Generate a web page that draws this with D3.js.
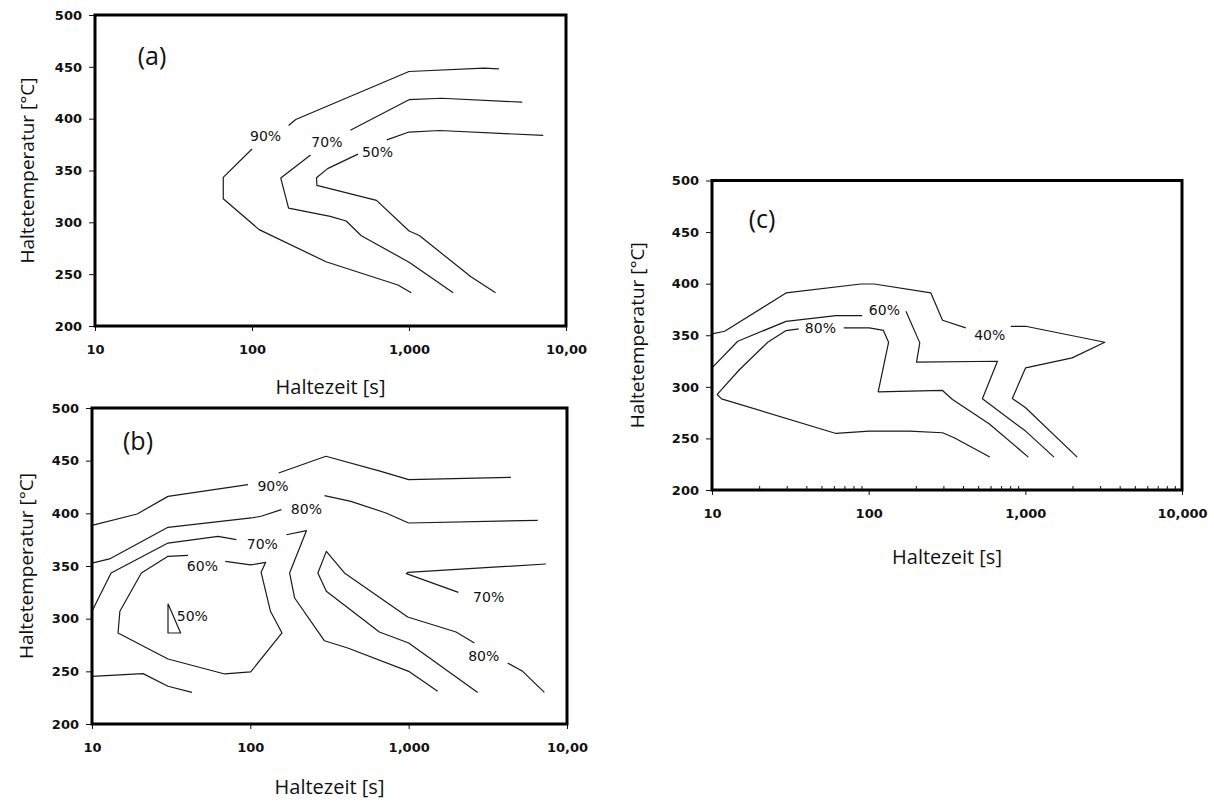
<!DOCTYPE html>
<html>
<head>
<meta charset="utf-8">
<script src="https://cdn.jsdelivr.net/npm/d3@7"></script>
<style>
  body { margin: 0; background: #fff; }
  svg { display: block; }
  .tick text { font-family: "DejaVu Sans", sans-serif; font-weight: bold; font-size: 13px; fill: #111; }
  .tick line { stroke: #111; stroke-width: 1; }
  .title { font-family: "Open Sans", sans-serif; fill: #111; }
  .clabel { font-family: "DejaVu Sans", sans-serif; font-size: 14px; fill: #111; }
  .contour { fill: none; stroke: #1a1a1a; stroke-width: 1.2; stroke-linejoin: round; }
</style>
</head>
<body>
<svg id="chart" width="1214" height="802"></svg>
<script>
// axis ticks and labels
var yTicks = [200, 250, 300, 350, 400, 450, 500];
var xTicks = [10, 100, 1000, 10000];
var xLabelsAB = ["10", "100", "1,000", "10,00"];
var xLabelsC = ["10", "100", "1,000", "10,000"];
var xMinor = [20, 30, 40, 50, 60, 70, 80, 90, 200, 300, 400, 500, 600, 700, 800, 900,
              2000, 3000, 4000, 5000, 6000, 7000, 8000, 9000];

// contour lines [Haltezeit s, Temperatur C]; null = gap for a label
// (a)
var a90 = [[3740,448.1],[2990,448.7],[1000,445.5],[190,399.2],[171,393.4], null,
           [100,370.7],[65.6,343.3],[65.6,322.8],[111,293],[296,262],[850,239.6],[1034,232]];
var a70 = [[5260,415.9],[1612,419.7],[1000,418.3],[423,388.9], null,
           [236,365],[152.5,342.7],[171,313.7],[315,305.7],[398,301.3],[497,287.1],[1007,261.3],[1910,232]];
var a50 = [[7160,383.8],[1572,388.6],[1000,387.1],[722,379.6], null,
           [473,365.8],[303,351.8],[257.5,343],[259,335.6],[621,321.2],[1002,291.6],[1163,287.3],[2480,247.5],[3560,232]];
var labelsA = [["90%", 122, 383.2], ["70%", 300, 377.9], ["50%", 630, 367.6]];

// (b)
var b90 = [[10,388.6],[19.3,399.4],[30.2,416.1],[96.6,427.2], null,
           [151,438.3],[300,454.2],[668,439.9],[1000,432],[4425,434.2]];
var b80 = [[10,352.8],[12.9,356.7],[30.2,386.7],[101.5,395.6],[117,397.2],[157,403.5], null,
           [294,416.8],[432,411.4],[719,400.3],[1000,390.8],[6530,393.4]];
var b70 = [[10,307],[13.2,343.4],[30.2,371.8],[62.5,378.2],[81.7,375], null,
           [169,379.7],[226,383.5],[177,343.4],[190.5,319.6],[294,279],[412,272.2],[1000,250],[1524,231]];
var b70r = [[7360,351.9],[986,344],[967,342.7],[2061,325]];
var b60 = [[40.4,360.1],[30.2,359.2],[20.5,343.4],[15,307],[14.6,286.4],[30.2,261.7],[68.9,247.5],
           [100.5,249.4],[158.5,286.4],[134,307],[117,344],[125,353.5],[100.5,351],[69.5,354.4]];
var b50 = [[30.2,314.2],[36.3,286.4],[30.2,286.4],[30.2,314.2]];
var bLow = [[10,245.3],[21,247.8],[30.2,235.8],[42.8,230]];
var b80r = [[7194,230],[5248,250],[4217,257.9], null,
            [2600,276.9],[1991,287.3],[986,301.6],[393,343.4],[302,363.9],[267,343.4],[302,326],
            [653,287.3],[1000,276.9],[2729,230]];
var labelsB = [["90%", 139, 425.6], ["80%", 226, 404.1], ["70%", 119, 371.2], ["60%", 49.8, 349.7],
               ["50%", 43, 302.8], ["70%", 3199, 320.6], ["80%", 2978, 264.9]];

// (c)
var c40 = [[10,351.3],[12.05,353.9],[29.7,391],[89.3,399.7],[108.6,399.7],[249.5,391],[296,364.5],[417,357.1], null,
           [807,358.7],[1004,358.7],[3214,343.2],[1991,328.1],[1004,318.4],[826,288.7],[1004,279.7],[2143,231.9]];
var c60 = [[10,318.4],[14.6,344.2],[29.7,363.5],[61.9,369],[90.8,369], null,
           [173,373.2],[212,342.6],[202,323.9],[664,324.8],[532,288.4],[1004,257.1],[1524,231.9]];
var c80 = [[593,231.9],[351.6,250.6],[296,255.5],[181.6,257.1],[101,257.1],[61.9,254.8],[11.5,288.4],
           [10.8,292.6],[15,316.8],[22.7,343.2],[29.7,354.5],[35.8,356.1], null,
           [69.3,357.1],[101,357.1],[124,354.8],[134,343.2],[115,295.2],[296,296.5],[343,287.7],[587,264.2],[1045,231.9]];
var labelsC = [["60%", 126, 374.8], ["80%", 49.2, 357.1], ["40%", 593, 350.6]];

var svg = d3.select("#chart");

function drawPanel(p, lines, labels) {
  var x = d3.scaleLog().domain([10, 10000]).range([p.x0, p.x1]);
  var y = d3.scaleLinear().domain([200, 500]).range([p.y1, p.y0]);
  var g = svg.append("g");

  // y axis ticks
  g.append("g")
    .attr("transform", "translate(" + p.x0 + ",0)")
    .call(d3.axisLeft(y).tickValues(yTicks).tickSize(6).tickPadding(7).tickFormat(d3.format("d")))
    .call(s => s.select(".domain").remove());

  // x axis ticks
  g.append("g")
    .attr("transform", "translate(0," + p.y1 + ")")
    .call(d3.axisBottom(x).tickValues(xTicks).tickSize(5).tickPadding(14)
      .tickFormat((d, i) => p.xLabels[i]))
    .call(s => s.select(".domain").remove());

  if (p.minor) {
    g.append("g")
      .attr("transform", "translate(0," + p.y1 + ")")
      .call(d3.axisBottom(x).tickValues(xMinor).tickSize(-4).tickFormat(""))
      .call(s => s.select(".domain").remove());
  }

  var line = d3.line()
    .defined(d => d !== null)
    .x(d => x(d[0]))
    .y(d => y(d[1]));

  g.selectAll(".contour")
    .data(lines)
    .enter().append("path")
    .attr("class", "contour")
    .attr("d", d => line(d));

  g.selectAll(".clabel")
    .data(labels)
    .enter().append("text")
    .attr("class", "clabel")
    .attr("x", d => x(d[1]))
    .attr("y", d => y(d[2]))
    .attr("text-anchor", "middle")
    .attr("dy", "0.36em")
    .text(d => d[0]);

  // frame
  g.append("rect")
    .attr("x", p.x0)
    .attr("y", p.y0)
    .attr("width", p.x1 - p.x0)
    .attr("height", p.y1 - p.y0)
    .attr("fill", "none")
    .attr("stroke", "#000")
    .attr("stroke-width", 3);

  g.append("text")
    .attr("class", "title")
    .attr("x", p.tagX)
    .attr("y", p.tagY)
    .attr("text-anchor", "middle")
    .attr("dy", "0.35em")
    .style("font-size", "25px")
    .text(p.tag);

  g.append("text")
    .attr("class", "title")
    .attr("x", (p.x0 + p.x1) / 2)
    .attr("y", p.y1 + p.xTitleDy)
    .attr("text-anchor", "middle")
    .attr("dy", "0.35em")
    .style("font-size", "20px")
    .text("Haltezeit [s]");

  g.append("text")
    .attr("class", "title")
    .attr("transform", "translate(" + p.yTitleX + "," + (p.y0 + p.y1) / 2 + ") rotate(-90)")
    .attr("text-anchor", "middle")
    .attr("dy", "0.35em")
    .style("font-size", "19px")
    .text("Haltetemperatur [°C]");
}

drawPanel({x0: 95, x1: 566, y0: 15, y1: 326, tag: "(a)", tagX: 152, tagY: 56,
           xTitleDy: 61, yTitleX: 27, xLabels: xLabelsAB, minor: false},
          [a90, a70, a50], labelsA);

drawPanel({x0: 92, x1: 567, y0: 408, y1: 724, tag: "(b)", tagX: 138, tagY: 441,
           xTitleDy: 63, yTitleX: 26, xLabels: xLabelsAB, minor: false},
          [b90, b80, b70, b70r, b60, b50, bLow, b80r], labelsB);

drawPanel({x0: 712, x1: 1182, y0: 180.5, y1: 490, tag: "(c)", tagX: 762, tagY: 219,
           xTitleDy: 67, yTitleX: 637, xLabels: xLabelsC, minor: true},
          [c40, c60, c80], labelsC);
</script>
</body>
</html>
